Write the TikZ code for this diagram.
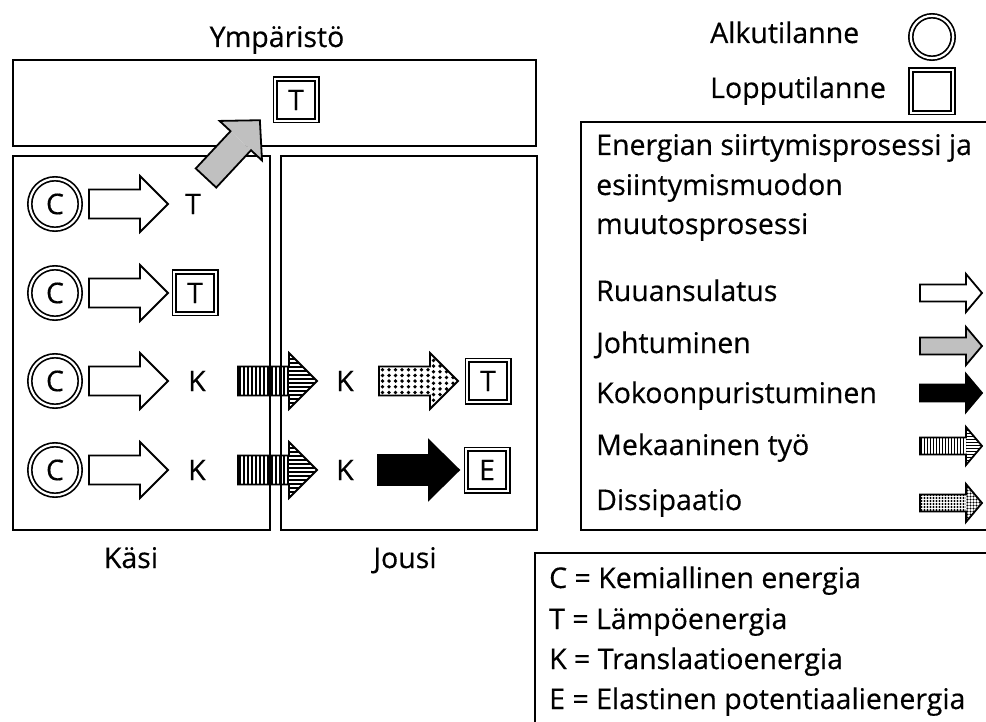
\documentclass[tikz,border=0pt]{standalone}
\usepackage{fontspec}
\setmainfont{Open Sans}[FakeBold=0.4]
\definecolor{arrgray}{RGB}{192,192,192}
\newcommand\blockarr[8]{%
 \begin{scope}[shift={#1},rotate=#2]
  \path[#7] (0,{-(#4)/2}) rectangle ({#3-#6},{(#4)/2});
  \path[#8] ({#3-#6},{-(#5)/2}) -- (#3,0) -- ({#3-#6},{(#5)/2}) -- cycle;
  \draw[arrline] (0,{-(#4)/2}) -- ({#3-#6},{-(#4)/2}) -- ({#3-#6},{-(#5)/2}) -- (#3,0) -- ({#3-#6},{(#5)/2}) -- ({#3-#6},{(#4)/2}) -- (0,{(#4)/2}) -- cycle;
 \end{scope}}
\tikzset{
 txt/.style={inner sep=0pt, font=\fontsize{28.5}{33}\selectfont},
 arrline/.style={draw=black, line width=1.8pt, line join=miter},
 frame/.style={draw=black, line width=2.2pt},
 thinframe/.style={draw=black, line width=1.5pt},
 startst/.style={circle, draw=black, line width=1.7pt, double, double distance=2.2pt, minimum size=50.4pt, inner sep=0pt, txt},
 endst/.style={rectangle, draw=black, line width=1.7pt, double, double distance=2.2pt, minimum size=41.4pt, inner sep=0pt, txt},
 whitefill/.style={fill=white},
 grayfill/.style={fill=arrgray},
 blackfill/.style={fill=black},
 vstripes/.style={path picture={\foreach \px in {#1}
   \draw[line width=1.3pt] ([xshift=\px pt]path picture bounding box.south west) -- ([xshift=\px pt]path picture bounding box.north west);}},
 hstripes/.style={path picture={\foreach \py in {#1}
   \draw[line width=1.3pt] ([yshift=\py pt]path picture bounding box.south west) -- ([yshift=\py pt]path picture bounding box.south east);}},
 dotgrid/.style={path picture={\foreach \px in {3.5,10,...,80} \foreach \py in {3,8.7,...,70}
   \fill ([xshift=\px pt,yshift=\py pt]path picture bounding box.south west) circle (1.9pt);}},
 dotgridS/.style={path picture={\foreach \px in {1.5,4.5,...,60} \foreach \py in {1.5,4.5,...,40}
   \fill ([xshift=\px pt,yshift=\py pt]path picture bounding box.south west) circle (1.1pt);}},
}
\begin{document}
\begin{tikzpicture}[x=1pt,y=-1pt]
\useasboundingbox (0,0) rectangle (986,722);
\clip (0,0) rectangle (986,722);

% ---- arrows in rows (drawn under the frames)
\blockarr{(89,204)}{0}{79}{29}{56}{28}{whitefill}{whitefill}
\blockarr{(89,293)}{0}{79}{29}{56}{28}{whitefill}{whitefill}
\blockarr{(89,381)}{0}{79}{29}{56}{28}{whitefill}{whitefill}
\blockarr{(89,470)}{0}{79}{29}{56}{28}{whitefill}{whitefill}
\blockarr{(238,381)}{0}{79}{29}{56}{28}{vstripes={2,6,...,52}}{hstripes={2,6,...,58}}
\blockarr{(238,470)}{0}{79}{29}{56}{28}{vstripes={2,6,...,52}}{hstripes={2,6,...,58}}
\blockarr{(379,381)}{0}{79}{29}{56}{28}{dotgrid}{dotgrid}
\blockarr{(378,470)}{0}{81}{30}{59}{30}{blackfill}{blackfill}

% ---- frames
\draw[frame] (13,60) rectangle (536,146);
\draw[frame] (13,156) rectangle (270,530);
\draw[frame] (281,156) rectangle (537,530);
\draw[thinframe] (1000,122) -- (581,122) -- (581,530) -- (1000,530);
\draw[frame] (1000,553) -- (535,553) -- (535,730);

% ---- conduction arrow to the environment
\blockarr{(206,178)}{47}{79}{28}{58}{28}{grayfill}{grayfill}

% ---- region labels
\node[txt, anchor=base] (ymp) at (277,47) {Ympäristö};
\node[txt, anchor=base] (kasi) at (131,568) {Käsi};
\node[txt, anchor=base] (jousi) at (405,568) {Jousi};

% ---- states
\node[endst] (tymp) at (296,100) {T};
\node[startst] (c1) at (55,204) {C};
\node[startst] (c2) at (55,293) {C};
\node[startst] (c3) at (55,381) {C};
\node[startst] (c4) at (55,470) {C};
\node[txt] (t1) at (193,204) {T};
\node[endst] (t2) at (195,293) {T};
\node[txt] (k3) at (197,381) {K};
\node[txt] (k4) at (197,470) {K};
\node[txt] (k3b) at (345,381) {K};
\node[txt] (k4b) at (345,470) {K};
\node[endst] (t3) at (488,381) {T};
\node[endst] (e4) at (487,470) {E};

% ---- legend top right
\node[txt, anchor=base west] (alku) at (710,43) {Alkutilanne};
\node[txt, anchor=base west] (loppu) at (710,98) {Lopputilanne};
\node[startst, minimum size=42.4pt] (alkusym) at (932,37) {};
\node[endst, minimum size=42.4pt] (loppusym) at (932,91.5) {};

% ---- legend of processes
\node[txt, anchor=base west] (h1) at (596,155) {Energian siirtymisprosessi ja};
\node[txt, anchor=base west] (h2) at (596,195) {esiintymismuodon};
\node[txt, anchor=base west] (h3) at (596,234) {muutosprosessi};
\node[txt, anchor=base west] (l1) at (596,301) {Ruuansulatus};
\node[txt, anchor=base west] (l2) at (596,353) {Johtuminen};
\node[txt, anchor=base west] (l3) at (596,403) {Kokoonpuristuminen};
\node[txt, anchor=base west] (l4) at (596,455) {Mekaaninen työ};
\node[txt, anchor=base west] (l5) at (596,510) {Dissipaatio};
\blockarr{(920,293)}{0}{62}{17}{38}{16}{whitefill}{whitefill}
\blockarr{(920,346)}{0}{62}{17}{38}{16}{grayfill}{grayfill}
\blockarr{(920,393)}{0}{62}{17}{38}{16}{blackfill}{blackfill}
\blockarr{(920,446)}{0}{62}{17}{38}{16}{vstripes={1.5,4.5,...,48}}{hstripes={1.5,4.5,...,40}}
\blockarr{(920,503)}{0}{62}{17}{38}{16}{dotgridS}{dotgridS}

% ---- symbol key
\node[txt, anchor=base west] (s1) at (549,588) {C = Kemiallinen energia};
\node[txt, anchor=base west] (s2) at (549,629) {T = Lämpöenergia};
\node[txt, anchor=base west] (s3) at (549,669) {K = Translaatioenergia};
\node[txt, anchor=base west] (s4) at (549,709) {E = Elastinen potentiaalienergia};
\end{tikzpicture}
\end{document}
